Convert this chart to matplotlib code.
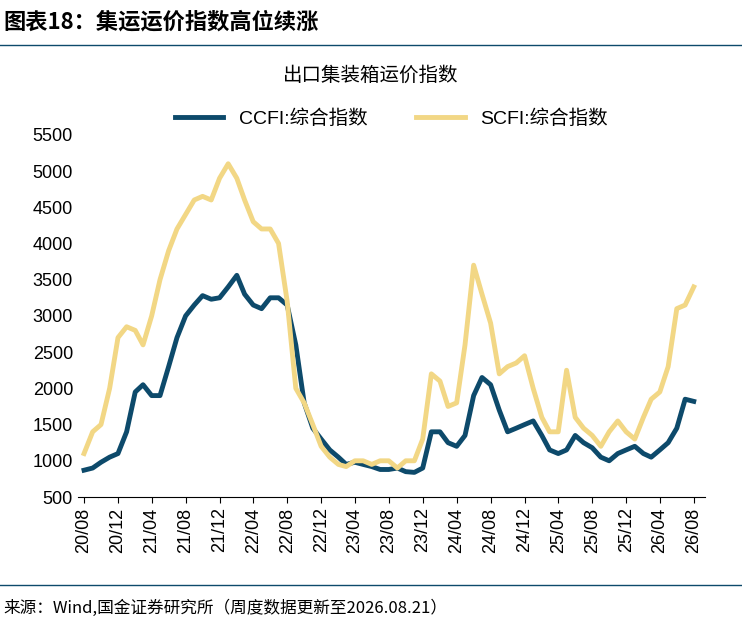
import matplotlib
matplotlib.use("Agg")
import matplotlib.pyplot as plt
import matplotlib.dates as mdates
import pandas as pd

plt.rcParams['font.family'] = ['Liberation Sans', 'Noto Sans CJK SC', 'DejaVu Sans']

# monthly readings, 2020-08 .. 2026-08
months = pd.date_range("2020-08-01", "2026-08-01", freq="MS")
ccfi = [870, 900, 980, 1050, 1100, 1400, 1950, 2050, 1900, 1900, 2300, 2700,
        3000, 3150, 3280, 3230, 3250, 3400, 3560, 3300, 3150, 3100, 3250, 3250,
        3150, 2600, 1800, 1450, 1300, 1150, 1050, 950, 980, 950, 920, 880,
        880, 900, 850, 840, 900, 1400, 1400, 1250, 1200, 1350, 1900, 2150,
        2050, 1700, 1400, 1450, 1500, 1550, 1350, 1150, 1100, 1150, 1350, 1250,
        1180, 1050, 1000, 1100, 1150, 1200, 1100, 1050, 1150, 1250, 1450, 1850, 1820]
scfi = [1100, 1400, 1500, 2000, 2700, 2850, 2800, 2600, 3000, 3500, 3900, 4200,
        4400, 4600, 4650, 4600, 4900, 5100, 4900, 4600, 4300, 4200, 4200, 4000,
        3200, 2000, 1800, 1500, 1200, 1050, 950, 920, 1000, 1000, 950, 1000,
        1000, 900, 1000, 1000, 1300, 2200, 2100, 1750, 1800, 2600, 3700, 3300,
        2900, 2200, 2300, 2350, 2450, 2000, 1600, 1400, 1400, 2250, 1600, 1450,
        1350, 1200, 1400, 1550, 1400, 1300, 1600, 1850, 1950, 2300, 3100, 3150, 3400]
tick_dates = pd.date_range("2020-08-01", "2026-08-01", freq="4MS")

fig = plt.figure(figsize=(7.42, 6.24), dpi=100)
ax = fig.add_axes([0.105, 0.2035, 0.845, 0.5805])
ax.plot(months, ccfi, color="#0d4a6b", lw=3.5, label="CCFI:综合指数")
ax.plot(months, scfi, color="#f2d785", lw=3.5, label="SCFI:综合指数")
ax.set_ylim(500, 5500)
ax.set_yticks(range(500, 5501, 500))
ax.set_xlim(pd.Timestamp("2020-07-10"), pd.Timestamp("2026-09-10"))
ax.set_xticks(tick_dates)
ax.xaxis.set_major_formatter(mdates.DateFormatter("%y/%m"))
ax.tick_params(axis="x", rotation=90, labelsize=13, length=4)
ax.tick_params(axis="y", labelsize=13, length=0)
for s in ["top", "right", "left"]:
    ax.spines[s].set_visible(False)
ax.legend(loc="center", bbox_to_anchor=(0.5, 1.045), ncol=2, frameon=False,
          fontsize=14, handlelength=2.5, columnspacing=2.5)

fig.text(0.5, 0.87, "出口集装箱运价指数", ha="center", fontsize=14,
         family=["Noto Sans CJK SC"])
fig.text(0.005, 0.955, "图表18：集运运价指数高位续涨", fontsize=16, fontweight="bold",
         style="italic", family=["Noto Sans CJK SC"])
fig.add_artist(plt.Line2D([0, 1], [0.928, 0.928], color="#0d4a6b", lw=1))
fig.add_artist(plt.Line2D([0, 1], [0.062, 0.062], color="#0d4a6b", lw=1))
fig.text(0.005, 0.018, "来源：Wind,国金证券研究所（周度数据更新至2026.08.21）", fontsize=12,
         family=["Noto Sans CJK SC"])
fig.savefig("out.png")
